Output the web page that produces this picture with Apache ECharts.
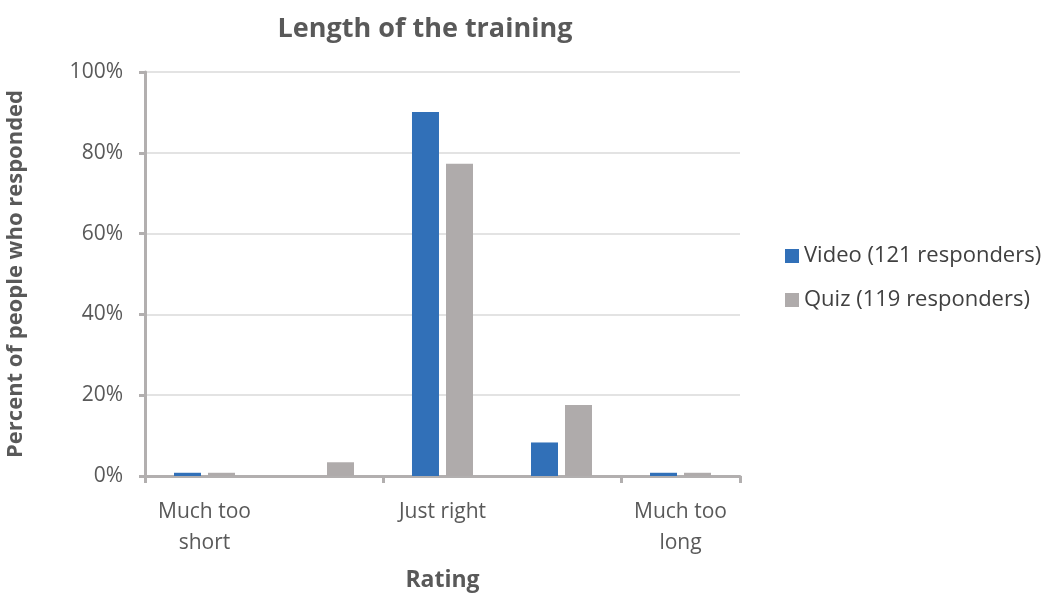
<!DOCTYPE html>
<html>
<head>
<meta charset="utf-8">
<script src="https://cdn.jsdelivr.net/npm/echarts@6/dist/echarts.min.js"></script>
<style>html,body{margin:0;padding:0;background:#fff}#chart{width:1059px;height:595px}</style>
</head>
<body>
<div id="chart"></div>
<script>
var categories = ['Much too\nshort', '', 'Just right', '', 'Much too\nlong'];
var videoValues = [0.8, 0, 90.1, 8.3, 0.8];
var quizValues = [0.8, 3.4, 77.3, 17.6, 0.8];
var seriesNames = ['Video (121 responders)', 'Quiz (119 responders)'];

var myChart = echarts.init(document.getElementById('chart'));
var font = '"Open Sans", "Noto Sans", sans-serif';
var axisGrey = '#b2afaf';

var option = {
  textStyle: { fontFamily: font },
  title: {
    text: 'Length of the training',
    left: 420, top: 11, textAlign: 'center',
    textStyle: { fontFamily: font, fontSize: 27, fontWeight: 'bold', color: '#595959' }
  },
  legend: {
    orient: 'vertical', left: 780, top: 240,
    itemWidth: 14, itemHeight: 14, itemGap: 22,
    icon: 'rect',
    textStyle: { fontFamily: font, fontSize: 22, color: '#404040' },
    data: seriesNames
  },
  grid: { left: 145, right: 319, top: 72, bottom: 119, outerBoundsMode: 'none', containLabel: false },
  xAxis: {
    type: 'category',
    data: categories,
    name: 'Rating',
    nameLocation: 'middle',
    nameGap: 93,
    nameTextStyle: { fontFamily: font, fontSize: 23, fontWeight: 'bold', color: '#595959' },
    axisLine: { lineStyle: { color: axisGrey, width: 3 } },
    axisTick: { show: true, length: 7, lineStyle: { color: axisGrey, width: 3 } },
    axisLabel: { fontFamily: font, fontSize: 21, color: '#595959', margin: 21, lineHeight: 31 }
  },
  yAxis: {
    type: 'value',
    min: 0, max: 100, interval: 20,
    name: 'Percent of people who responded',
    nameLocation: 'middle',
    nameGap: 118,
    nameTextStyle: { fontFamily: font, fontSize: 22, fontWeight: 'bold', color: '#595959' },
    axisLine: { show: true, lineStyle: { color: axisGrey, width: 3 } },
    axisTick: { show: true, length: 6, lineStyle: { color: axisGrey, width: 3 } },
    axisLabel: { formatter: '{value}%', fontFamily: font, fontSize: 21, color: '#595959', margin: 22 },
    splitLine: { lineStyle: { color: '#e3e3e3', width: 2 } }
  },
  series: [
    {
      name: seriesNames[0], type: 'bar', data: videoValues,
      barWidth: 27, barGap: '26%',
      itemStyle: { color: '#3170b8' }
    },
    {
      name: seriesNames[1], type: 'bar', data: quizValues,
      barWidth: 27,
      itemStyle: { color: '#afabab' }
    }
  ]
};

myChart.setOption(option);
</script>
</body>
</html>
